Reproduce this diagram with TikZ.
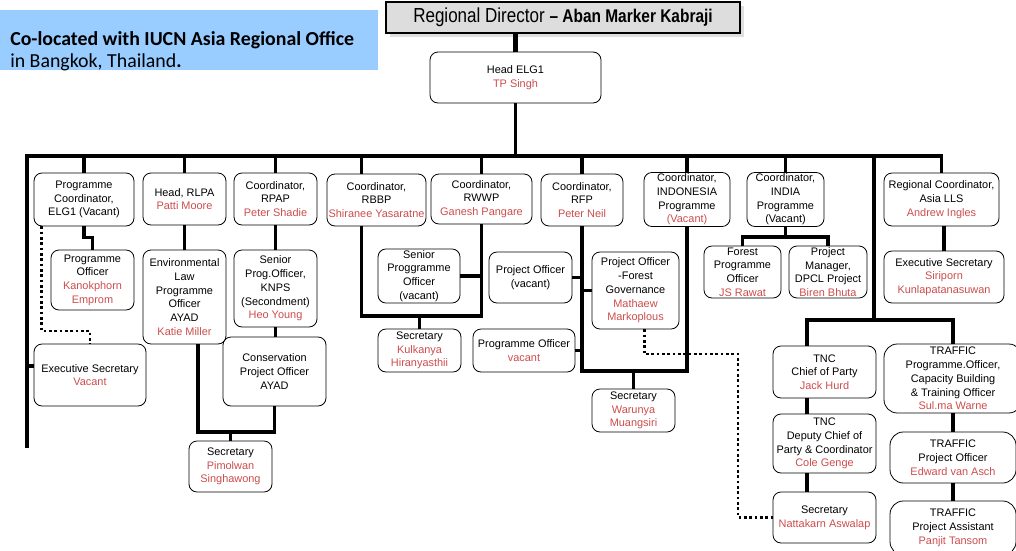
\documentclass[tikz,border=0pt]{standalone}
\usepackage{fontspec}
\setmainfont{Liberation Sans}
\newfontfamily\notefont{Carlito}
\newfontfamily\rdfont[FakeStretch=0.84]{Liberation Sans}
\usetikzlibrary{shadows}
\definecolor{namered}{RGB}{204,76,76}
\definecolor{noteblue}{RGB}{153,204,255}
\definecolor{rdgray}{RGB}{221,221,221}
\newcommand\nm[1]{\textcolor{namered}{#1}}
\newcommand\boxfont{\fontsize{8.2}{10.3}\selectfont}

\begin{document}
\begin{tikzpicture}[x=0.75pt, y=-0.75pt,
  box/.style={draw, rounded corners=6pt, align=center, inner sep=1pt, line width=0.6pt, font=\boxfont},
  sz/.style 2 args={minimum width=#1*0.75pt, minimum height=#2*0.75pt},
  conn/.style={line width=2.6pt},
  dots/.style={line width=2.2pt, dash pattern=on 2pt off 2pt}]
\useasboundingbox (0,0) rectangle (1016,550);
\clip (0,0) rectangle (1016,550);
 % header
  \fill[noteblue] (0,10) rectangle (378,70);
  \node (note) at (10,31) [anchor=north west, inner sep=0pt, align=left,
    font=\notefont\fontsize{14.9}{16.4}\selectfont]
    {\textbf{Co-located with IUCN Asia Regional Office}\\in Bangkok, Thailand\textbf{.}};
  \node (rd) at (563,17.5) [draw, line width=2pt, fill=rdgray, sz={354}{31},
    drop shadow={shadow xshift=3pt, shadow yshift=-3pt, fill=black!25}]
    {\rdfont\fontsize{15.2}{16}\selectfont Regional Director \fontsize{13.8}{16}\selectfont\bfseries – Aban Marker Kabraji};
  \node (head) at (515.5,77.5) [box, sz={171}{51}] {Head ELG1\\\nm{TP Singh}};
 % first row
  \node (pc) at (84,199.5) [box, sz={100}{53}] {Programme\\Coordinator,\\ELG1 (Vacant)};
  \node (rlpa) at (184.5,199) [box, sz={83}{52}] {Head, RLPA\\\nm{Patti Moore}};
  \node (rpap) at (275.5,199) [box, sz={83}{52}] {Coordinator,\\RPAP\\\nm{Peter Shadie}};
  \node (rbbp) at (376.5,200) [box, sz={99}{52}] {Coordinator,\\RBBP\\\nm{Shiranee Yasaratne}};
  \node (rwwp) at (481.5,199) [box, sz={101}{50}] {Coordinator,\\RWWP\\\nm{Ganesh Pangare}};
  \node (rfp) at (582,200) [box, sz={82}{52}] {Coordinator,\\RFP\\\nm{Peter Neil}};
  \node (indo) at (687,199.5) [box, sz={86}{53}] {Coordinator,\\INDONESIA\\Programme\\\nm{(Vacant)}};
  \node (india) at (785.5,199.5) [box, sz={77}{53}] {Coordinator,\\INDIA\\Programme\\(Vacant)};
  \node (lls) at (941.5,199.5) [box, sz={115}{53}] {Regional Coordinator,\\Asia LLS\\\nm{Andrew Ingles}};
 % staff
  \node (po1) at (92.5,280) [box, sz={83}{60}] {Programme\\Officer\\\nm{Kanokphorn}\\\nm{Emprom}};
  \node (exsec) at (90,375) [box, sz={112}{62}] {Executive Secretary\\\nm{Vacant}};
  \node (envlaw) at (184.5,297) [box, sz={83}{94}] {Environmental\\Law\\Programme\\Officer\\AYAD\\\nm{Katie Miller}};
  \node (spo) at (275.5,288.5) [box, sz={83}{77}] {Senior\\Prog.Officer,\\KNPS\\(Secondment)\\\nm{Heo Young}};
  \node (cpo) at (274.5,371.5) [box, sz={103}{69}] {Conservation\\Project Officer\\AYAD};
  \node (sec1) at (230.5,466.5) [box, sz={83}{51}] {Secretary\\\nm{Pimolwan}\\\nm{Singhawong}};
  \node (sprog) at (419,276) [box, sz={82}{52}] {Senior\\Proggramme\\Officer\\(vacant)};
  \node (sec2) at (419.5,350.5) [box, sz={83}{43}] {Secretary\\\nm{Kulkanya}\\\nm{Hiranyasthii}};
  \node (pov) at (530.5,277.5) [box, sz={83}{51}] {Project Officer\\(vacant)};
  \node (prov) at (524,350.5) [box, sz={102}{43}] {Programme Officer\\\nm{vacant}};
  \node (pofg) at (635.5,290.5) [box, sz={87}{77}] {Project Officer\\-Forest\\Governance\\\nm{Mathaew}\\\nm{Markoplous}};
  \node (sec3) at (633.5,410.5) [box, sz={83}{43}] {Secretary\\\nm{Warunya}\\\nm{Muangsiri}};
  \node (fpo) at (742.5,272) [box, sz={77}{52}] {Forest\\Programme\\Officer\\\nm{JS Rawat}};
  \node (pm) at (828,272) [box, sz={78}{52}] {Project\\Manager,\\DPCL Project\\\nm{Biren Bhuta}};
  \node (exsec2) at (944,277) [box, sz={120}{52}] {Executive Secretary\\\nm{Siriporn}\\\nm{Kunlapatanasuwan}};
  \node (tnc1) at (824.5,372) [box, sz={103}{52}] {TNC\\Chief of Party\\\nm{Jack Hurd}};
  \node (tnc2) at (824.5,443.5) [box, sz={103}{59}] {TNC\\Deputy Chief of\\Party \& Coordinator\\\nm{Cole Genge}};
  \node (sec4) at (824.5,517.5) [box, sz={103}{51}] {Secretary\\\nm{Nattakarn Aswalap}};
  \node (tr1) at (953,378.5) [box, rounded corners=10pt, sz={138}{69}] {TRAFFIC\\Programme.Officer,\\Capacity Building\\\& Training Officer\\\nm{Sul.ma Warne}};
  \node (tr2) at (953,457.5) [box, rounded corners=10pt, sz={126}{51}] {TRAFFIC\\Project Officer\\\nm{Edward van Asch}};
  \node (tr3) at (953,528) [box, rounded corners=10pt, sz={126}{54}] {TRAFFIC\\Project Assistant\\\nm{Panjit Tansom}};
 % joints
  \coordinate (busL) at (27,156);
  \coordinate (leftend) at (27,448);
  \coordinate (tj) at (874,320);
  \coordinate (ij) at (785.5,237);
  \coordinate (sj1) at (230.5,432);
  \coordinate (sj2) at (419.5,316);
  \coordinate (sj3) at (633.5,371);
  \coordinate (dk) at (90,331);
  \coordinate (dj) at (738,354);
 % lines
  \path[conn] (head.north) edge[line width=4pt] (head.north |- rd.south);
  \draw[conn] (head.south) -- (head.south |- busL);
  \draw[conn] (leftend) -- (busL) -| (lls.north);
  \path[conn] (pc.north |- busL) edge (pc.north)
    (rlpa.north |- busL) edge (rlpa.north)
    (rpap.north |- busL) edge (rpap.north)
    ([xshift=-11.25pt]rbbp.north) edge ++(0,-18)
    (rwwp.north |- busL) edge (rwwp.north)
    (rfp.north |- busL) edge (rfp.north)
    (indo.north |- busL) edge (indo.north)
    (india.north |- busL) edge (india.north);
  \draw[conn] (tj |- busL) -- (tj);
  \draw[conn] ([xshift=-13pt]tnc1.north) |- (tj) -| (tr1.north);
  \path[conn] ([xshift=-13pt]tnc1.south) edge ([xshift=-13pt]tnc2.north)
    ([xshift=-13pt]tnc2.south) edge ([xshift=-13pt]sec4.north);
  \path[conn] (tr1) edge (tr2)
    (tr2) edge (tr3);
  \draw[conn] (pc.south) -- ++(0,11) -| (po1.north);
  \draw[dots] ([xshift=6pt]pc.south west) |- (dk) -- (exsec.north);
  \draw[conn] ([yshift=6.75pt]exsec.west) -- ++(-7,0);
  \path[conn] (rlpa) edge (envlaw)
    (rpap.south) edge (rpap.south |- spo.north)
    (spo.south) edge (spo.south |- cpo.north);
  \draw[conn] ([xshift=10pt]envlaw.south) |- (sj1) -| (cpo.south);
  \draw[conn] (sec1.north) -- (sj1);
  \draw[conn] ([xshift=-11.25pt]rbbp.south) |- (sj2) -| (rwwp.south);
  \draw[conn] (sec2.north) -- (sj2);
  \draw[conn] (sprog.east) -- (sprog.east -| rwwp.south);
  \draw[conn] (rfp.south) |- (sj3);
  \draw[conn] (indo.south) |- (sj3);
  \draw[conn] (sj3) -- (sec3.north);
  \draw[conn] (pov.east) -- (pov.east -| rfp.south);
  \draw[conn] (pofg.west) -- (pofg.west -| rfp.south);
  \draw[conn] (prov.east) -- (prov.east -| rfp.south);
  \draw[dots] ([xshift=6.4pt]pofg.south) |- (dj) |- (sec4.west);
  \draw[conn] (india.south) -- (ij);
  \draw[conn] (fpo.north) |- (ij) -| (pm.north);
  \draw[conn] (exsec2.north) -- (exsec2.north |- lls.south);
\end{tikzpicture}
\end{document}
